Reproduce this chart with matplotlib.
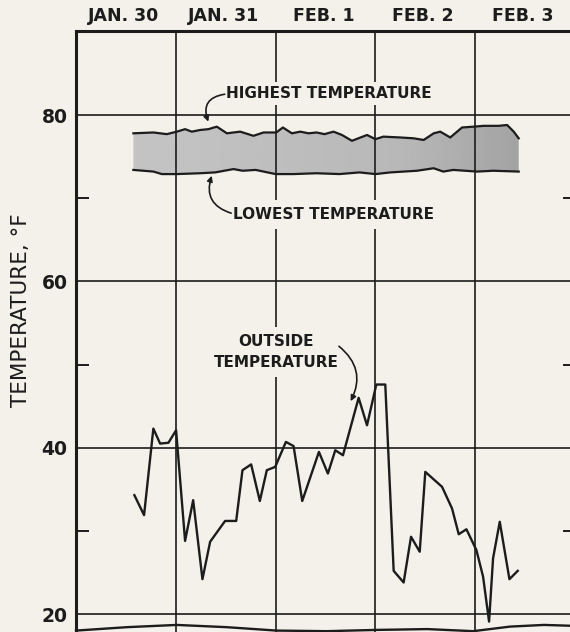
import numpy as np
import matplotlib
matplotlib.use("Agg")
from matplotlib import pyplot as plt

# days since start of Jan 30 (0 = midnight Jan 29/30)
day_labels = ["JAN. 30", "JAN. 31", "FEB. 1", "FEB. 2", "FEB. 3"]

outside_t = [0.585, 0.682, 0.775, 0.843, 0.926, 1.003, 1.093, 1.174, 1.267, 1.344,
             1.494, 1.605, 1.668, 1.755, 1.842, 1.912, 1.996, 2.103, 2.18, 2.267,
             2.434, 2.524, 2.598, 2.675, 2.832, 2.916, 3.009, 3.099, 3.183, 3.283,
             3.357, 3.444, 3.5, 3.668, 3.768, 3.835, 3.912, 4.012, 4.079, 4.139,
             4.179, 4.246, 4.343, 4.426]
outside_temp = [34.3, 31.9, 42.3, 40.5, 40.6, 42.1, 28.8, 33.7, 24.2, 28.7,
                31.2, 31.2, 37.3, 38.0, 33.6, 37.3, 37.7, 40.7, 40.2, 33.6,
                39.5, 36.9, 39.7, 39.1, 46.0, 42.7, 47.6, 47.6, 25.2, 23.8,
                29.3, 27.5, 37.1, 35.3, 32.7, 29.6, 30.2, 27.7, 24.5, 19.1,
                26.7, 31.1, 24.2, 25.2]

high_t = [0.575, 0.776, 0.91, 1.01, 1.093, 1.16, 1.244, 1.327, 1.411, 1.512,
          1.645, 1.778, 1.879, 2.006, 2.073, 2.163, 2.247, 2.33, 2.41, 2.49,
          2.58, 2.665, 2.765, 2.83, 2.916, 3.0, 3.08, 3.25, 3.383, 3.484,
          3.584, 3.65, 3.75, 3.868, 3.985, 4.085, 4.236, 4.32, 4.386, 4.436]
high_temp = [77.8, 77.9, 77.7, 78.0, 78.3, 78.0, 78.2, 78.3, 78.6, 77.8,
             78.0, 77.5, 77.9, 77.9, 78.5, 77.8, 78.0, 77.8, 77.9, 77.7,
             78.0, 77.6, 76.9, 77.2, 77.6, 77.1, 77.4, 77.3, 77.2, 77.0,
             77.8, 78.0, 77.3, 78.5, 78.6, 78.7, 78.7, 78.8, 78.0, 77.2]

low_t = [0.575, 0.776, 0.86, 1.01, 1.244, 1.394, 1.578, 1.67, 1.8, 2.0,
         2.18, 2.41, 2.64, 2.84, 3.0, 3.15, 3.417, 3.584, 3.68, 3.78,
         4.018, 4.18, 4.436]
low_temp = [73.4, 73.2, 72.9, 72.9, 73.0, 73.1, 73.5, 73.3, 73.4, 72.9,
            72.9, 73.0, 72.9, 73.1, 72.9, 73.1, 73.3, 73.6, 73.2, 73.4,
            73.2, 73.3, 73.2]

# edge of the next (cut off) panel at the bottom
edge_t = [0.0, 0.51, 1.01, 1.51, 2.01, 2.51, 3.01, 3.52, 3.98, 4.35, 4.69, 4.96]
edge_temp = [18.02, 18.43, 18.7, 18.43, 18.02, 17.95, 18.1, 18.2, 17.95, 18.5, 18.7, 18.6]

bg = "#f3f1ea"
ink = "#1c1c1c"

fig = plt.figure(figsize=(5.7, 6.32), dpi=100, facecolor=bg)
ax = fig.add_axes([76 / 570, 0, 499 / 570, 601 / 632], facecolor=bg)

# shaded band between lowest and highest room temperature
grid_t = np.linspace(high_t[0], high_t[-1], 400)
top = np.interp(grid_t, high_t, high_temp)
bot = np.interp(grid_t, low_t, low_temp)
band = ax.fill_between(grid_t, bot, top, color="none", lw=0, zorder=1)
shade = np.interp(np.linspace(0, 1, 256), [0, 0.7, 1], [0.77, 0.72, 0.64]).reshape(1, -1)
img = ax.imshow(shade, cmap="gray", vmin=0, vmax=1, aspect="auto",
                extent=(high_t[0], high_t[-1], 72.5, 79.0), zorder=1,
                interpolation="bilinear")
img.set_clip_path(band.get_paths()[0], transform=ax.transData)
ax.set_xlim(0, 5)
ax.set_ylim(17.85, 90.1)

ax.plot(high_t, high_temp, color=ink, lw=1.6, zorder=3)
ax.plot(low_t, low_temp, color=ink, lw=1.6, zorder=3)
ax.plot(outside_t, outside_temp, color=ink, lw=1.7, zorder=3)
ax.plot(edge_t, edge_temp, color=ink, lw=1.7, zorder=3, clip_on=False)

# grid
ax.set_axisbelow(False)
ax.set_yticks([20, 40, 60, 80])
ax.set_yticks([30, 50, 70], minor=True)
ax.set_xticks([1, 2, 3, 4])
ax.set_xticklabels([])
ax.set_xticks(np.arange(len(day_labels)) + 0.48, minor=True)
ax.set_xticklabels(day_labels, minor=True, fontsize=12.5, fontweight="bold", color=ink)
ax.xaxis.tick_top()
ax.grid(which="major", color=ink, lw=1.2)
ax.tick_params(axis="x", which="both", length=0, pad=4)
ax.tick_params(axis="y", which="major", length=0, pad=6, labelsize=13.5, labelcolor=ink)
ax.tick_params(axis="y", which="minor", direction="in", length=9, width=1.4,
               color=ink, left=True, right=True)
for lab in ax.get_yticklabels():
    lab.set_fontweight("bold")

for side in ["bottom", "right"]:
    ax.spines[side].set_visible(False)
for side in ["top", "left"]:
    ax.spines[side].set_linewidth(2.2)
    ax.spines[side].set_color(ink)

fig.text(21 / 570, 1 - 310 / 632, "TEMPERATURE, °F", rotation=90, ha="center",
         va="center", fontsize=15.5, color=ink)

# labels with arrows
box = dict(facecolor=bg, edgecolor="none", pad=3)
arrow = dict(arrowstyle="-|>", color=ink, lw=1.2, shrinkA=0, shrinkB=0, mutation_scale=8)
ax.text(1.50, 82.6, "HIGHEST TEMPERATURE", ha="left", va="center", fontsize=11,
        fontweight="bold", color=ink, bbox=box, zorder=5)
ax.annotate("", xy=(1.326, 79.2), xytext=(1.49, 82.5),
            arrowprops=dict(arrow, connectionstyle="arc3,rad=0.6"), zorder=6)
ax.text(1.57, 68.0, "LOWEST TEMPERATURE", ha="left", va="center", fontsize=11,
        fontweight="bold", color=ink, bbox=dict(box, pad=5), zorder=5)
ax.annotate("", xy=(1.36, 72.7), xytext=(1.555, 68.2),
            arrowprops=dict(arrow, connectionstyle="arc3,rad=-0.5"), zorder=6)
ax.text(2.004, 51.5, "OUTSIDE\nTEMPERATURE", ha="center", va="center", fontsize=11,
        fontweight="bold", color=ink, linespacing=1.5, bbox=dict(box, pad=5), zorder=5)
ax.annotate("", xy=(2.752, 45.6), xytext=(2.635, 52.2),
            arrowprops=dict(arrow, connectionstyle="arc3,rad=-0.4"), zorder=6)

fig.savefig("out.png", dpi=100, facecolor=bg)
